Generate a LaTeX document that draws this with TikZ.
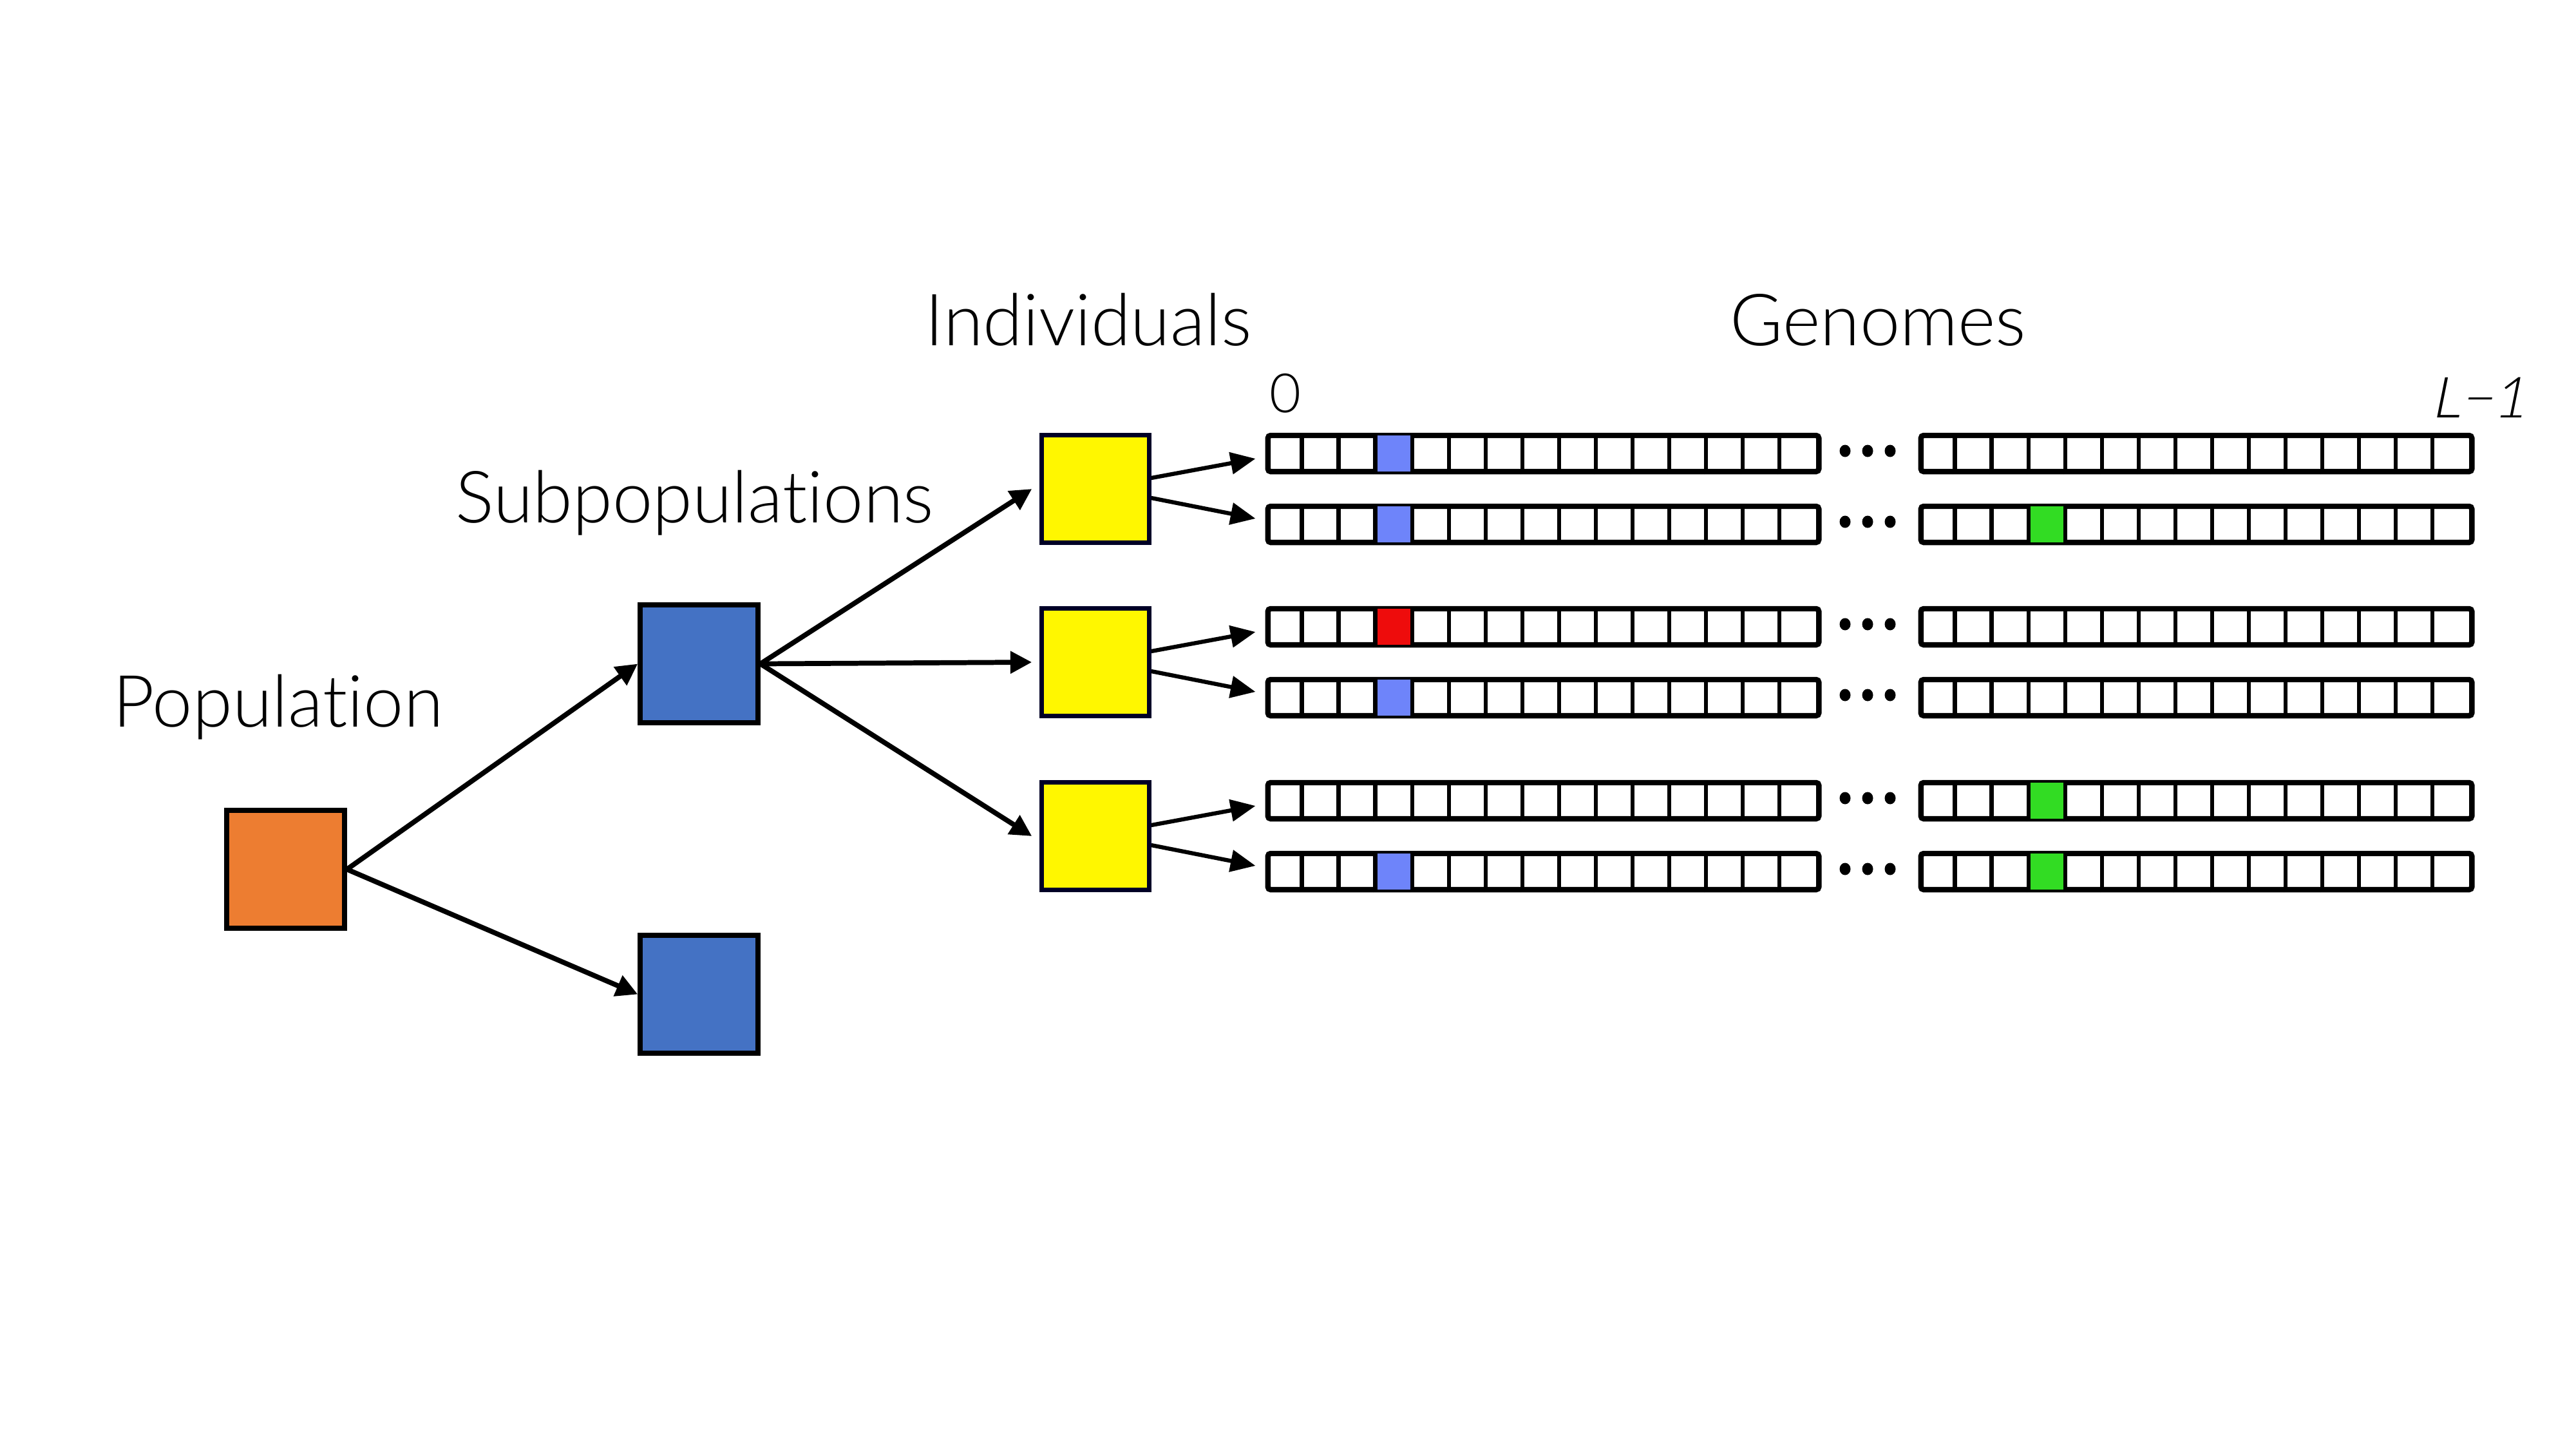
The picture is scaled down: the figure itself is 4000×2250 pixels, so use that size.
\documentclass[tikz,border=0pt]{standalone}
\usepackage{fontspec}
\newfontfamily\lite{Lato Light}[Ligatures=NoCommon]
\newfontfamily\liteslant{Lato Light}[FakeSlant=0.2]
\usetikzlibrary{arrows.meta}
\definecolor{popor}{RGB}{237,125,49}
\definecolor{subblue}{RGB}{68,114,196}
\definecolor{indy}{RGB}{255,247,0}
\definecolor{gblue}{RGB}{110,132,250}
\definecolor{gred}{RGB}{238,12,12}
\definecolor{ggreen}{RGB}{50,220,35}
\begin{document}
\begin{tikzpicture}[x=0.01cm,y=-0.01cm,
  sq/.style={draw=black, line width=2.1pt, inner sep=0pt, minimum width=1.83cm, minimum height=1.83cm},
  ind/.style={draw=black!85!blue, line width=1.8pt, fill=indy, inner sep=0pt, minimum width=1.67cm, minimum height=1.67cm},
  big/.style={line width=2.2pt, -{Triangle[length=9.5pt,width=9.5pt]}},
  garrow/.style={line width=1.8pt, -{Triangle[length=11pt,width=9.5pt]}},
  genrow/.style={draw=black, fill=white, line width=2.4pt, rounded corners=1.2pt, inner sep=0pt, minimum width=8.55cm, minimum height=0.56cm},
  csep/.style={line width=1.8pt},
  lbl/.style={font=\lite\fontsize{31.8}{38}\selectfont, anchor=base west, inner sep=0pt},
  idx/.style={font=\lite\fontsize{24}{28}\selectfont, inner sep=0pt}]
\fill[white] (0,0) rectangle (4000,2250);
\useasboundingbox (0,0) rectangle (4000,2250);

% titles
\node[lbl] (tpop) at (175,1128) {Popula\kern0pt tion};
\node[lbl] (tsub) at (707,811) {Subpopula\kern0pt tions};
\node[lbl] (tind) at (1436,536) {Individuals};
\node[lbl] (tgen) at (2686,536) {Genomes};

% squares
\node[sq, fill=popor] (pop) at (443.5,1349.5) {};
\node[sq, fill=subblue] (sb1) at (1085.5,1030.5) {};
\node[sq, fill=subblue] (sb2) at (1085.5,1543.5) {};
\node[ind] (y1) at (1701,759) {};
\node[ind] (y2) at (1701,1028) {};
\node[ind] (y3) at (1701,1298) {};

% genome rows
\foreach \r/\yy/\cl/\cr in {1/704/gblue/none, 2/814/gblue/ggreen, 3/973/gred/none, 4/1083/gblue/none, 5/1243/none/ggreen, 6/1353/gblue/ggreen}{
  \node[genrow] (gL\r) at (2396.5,\yy) {};
  \node[genrow] (gR\r) at (3410.5,\yy) {};
  \path[fill=\cl] ([xshift=1.71cm,yshift=1.2pt]gL\r.south west) rectangle ([xshift=2.28cm,yshift=-1.2pt]gL\r.north west);
  \path[fill=\cr] ([xshift=1.71cm,yshift=1.2pt]gR\r.south west) rectangle ([xshift=2.28cm,yshift=-1.2pt]gR\r.north west);
  \foreach \i in {1,...,14}{
    \draw[csep] ([xshift=\i*0.57cm]gL\r.south west) -- ([xshift=\i*0.57cm]gL\r.north west);
    \draw[csep] ([xshift=\i*0.57cm]gR\r.south west) -- ([xshift=\i*0.57cm]gR\r.north west);
  }
  \foreach \dx in {2865,2900,2935}{
    \fill (\dx,\yy-4) ellipse [x radius=0.085cm, y radius=0.095cm];
  }
}

% index labels
\node[idx] (zero) at (1996,611) {0};
\node[idx, font=\liteslant\fontsize{25}{28}\selectfont] (lmone) at (3849,617) {L−1};

% arrows
\draw[big] (pop.east) -- (sb1.west);
\draw[big] (pop.east) -- (sb2.west);
\draw[big] (sb1.east) -- ([xshift=-0.12cm]y1.west);
\draw[big] (sb1.east) -- ([xshift=-0.12cm]y2.west);
\draw[big] (sb1.east) -- ([xshift=-0.12cm]y3.west);
\foreach \k/\a/\b in {1/1/2, 2/3/4, 3/5/6}{
  \draw[garrow] ([yshift=0.17cm]y\k.east) -- ([xshift=-0.15cm,yshift=-0.08cm]gL\a.west);
  \draw[garrow] ([yshift=-0.14cm]y\k.east) -- ([xshift=-0.15cm,yshift=0.09cm]gL\b.west);
}
\end{tikzpicture}
\end{document}
